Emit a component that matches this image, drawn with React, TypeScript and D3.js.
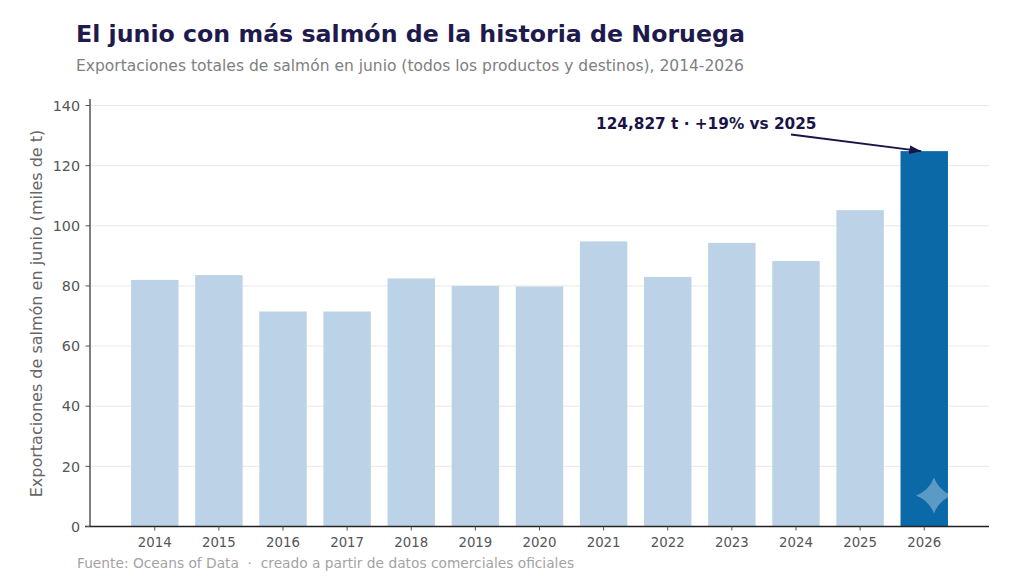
import * as d3 from "d3";

const years = ["2014", "2015", "2016", "2017", "2018", "2019", "2020", "2021", "2022", "2023", "2024", "2025", "2026"];
const exportsKt = [82, 83.6, 71.5, 71.5, 82.5, 80, 79.8, 94.8, 83, 94.3, 88.3, 105.2, 124.827];
const yTicks = [0, 20, 40, 60, 80, 100, 120, 140];

const width = 1024;
const height = 585;
const font = "'DejaVu Sans', sans-serif";

export default function App() {
  const x = d3.scaleBand<string>().domain(years).range([90, 989]).paddingInner(0.26).paddingOuter(0.64);
  const y = d3.scaleLinear().domain([0, 140]).range([526.5, 105.5]);
  const bottom = y(0);
  const tipX = x("2026")! + x.bandwidth() / 2 - 3;
  const tipY = y(124.827);

  // estrella de la marca de agua
  const sx = 934;
  const sy = 495.5;
  const k = 5;
  const star = `M${sx},${sy - 18} Q${sx + k},${sy - k} ${sx + 18},${sy} Q${sx + k},${sy + k} ${sx},${sy + 18} Q${sx - k},${sy + k} ${sx - 18},${sy} Q${sx - k},${sy - k} ${sx},${sy - 18}Z`;

  return (
    <svg
      width={width}
      height={height}
      viewBox={`0 0 ${width} ${height}`}
      style={{ position: "absolute", left: 0, top: 0, background: "#fff", fontFamily: font }}
    >
      <defs>
        <marker id="flecha" viewBox="0 0 12 9" refX="12" refY="4.5" markerWidth="12" markerHeight="9" markerUnits="userSpaceOnUse" orient="auto">
          <path d="M0,0 L12,4.5 L0,9 Z" fill="#1a1446" />
        </marker>
        <clipPath id="barra2026">
          <rect x={x("2026")} y={y(124.827)} width={x.bandwidth()} height={bottom - y(124.827)} />
        </clipPath>
      </defs>

      <text x={76} y={42} fontSize={23.7} fontWeight="bold" fill="#1f1a4d">
        El junio con más salmón de la historia de Noruega
      </text>
      <text x={76} y={71} fontSize={15.5} fill="#808080">
        Exportaciones totales de salmón en junio (todos los productos y destinos), 2014-2026
      </text>

      {/* rejilla */}
      {yTicks.filter((t) => t > 0).map((t) => (
        <line key={t} x1={90} x2={989} y1={y(t)} y2={y(t)} stroke="#e8e8e8" strokeWidth={1} />
      ))}

      {/* barras */}
      {years.map((yr, i) => (
        <rect
          key={yr}
          x={x(yr)}
          y={y(exportsKt[i])}
          width={x.bandwidth()}
          height={bottom - y(exportsKt[i])}
          fill={yr === "2026" ? "#0b69a8" : "#bcd3e7"}
        />
      ))}

      {/* ejes */}
      <line x1={90} x2={90} y1={99} y2={bottom} stroke="#555" strokeWidth={1.5} />
      <line x1={85} x2={989} y1={bottom} y2={bottom} stroke="#222" strokeWidth={1.4} />
      {yTicks.map((t) => (
        <g key={t}>
          <line x1={85.5} x2={90} y1={y(t)} y2={y(t)} stroke="#555" />
          <text x={80} y={y(t)} dy="0.36em" textAnchor="end" fontSize={14.3} fill="#555">{t}</text>
        </g>
      ))}
      {years.map((yr) => {
        const cx = x(yr)! + x.bandwidth() / 2;
        return (
          <g key={yr}>
            <line x1={cx} x2={cx} y1={bottom} y2={bottom + 4} stroke="#555" />
            <text x={cx} y={547} textAnchor="middle" fontSize={13.3} fill="#555">{yr}</text>
          </g>
        );
      })}

      <text transform="translate(42,313.5) rotate(-90)" textAnchor="middle" fontSize={16} fill="#666">
        Exportaciones de salmón en junio (miles de t)
      </text>

      {/* anotación */}
      <line x1={791} y1={134.5} x2={tipX} y2={tipY} stroke="#1a1446" strokeWidth={1.8} markerEnd="url(#flecha)" />
      <text x={596} y={129} fontSize={15.3} fontWeight="bold" fill="#1a1446">
        124,827 t · +19% vs 2025
      </text>

      <text x={77} y={568} fontSize={13.75} fill="#a3a3a3" xmlSpace="preserve">
        Fuente: Oceans of Data  ·  creado a partir de datos comerciales oficiales
      </text>

      <path d={star} fill="#fff" opacity={0.33} clipPath="url(#barra2026)" />
    </svg>
  );
}
